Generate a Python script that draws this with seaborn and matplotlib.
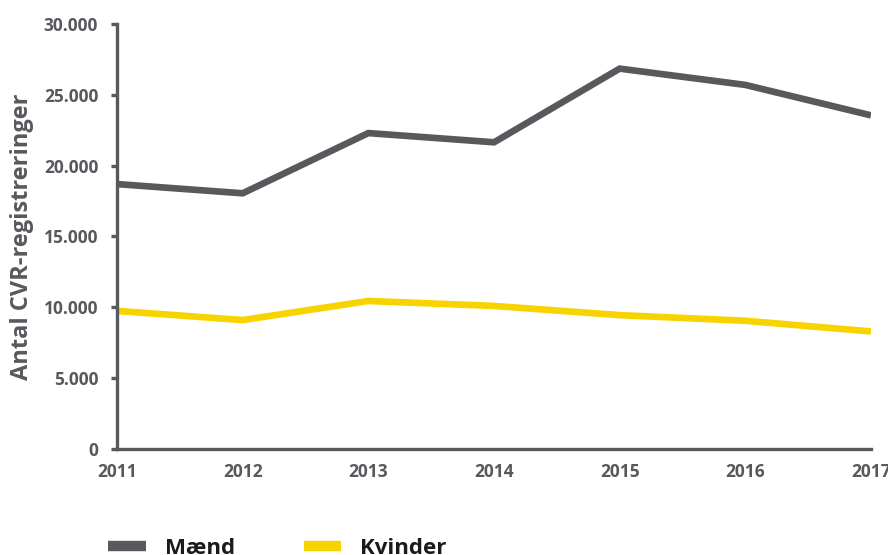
import matplotlib.pyplot as plt
import pandas as pd
import seaborn as sns
from matplotlib.lines import Line2D
from matplotlib.ticker import FuncFormatter

# Data
years = [2011, 2012, 2013, 2014, 2015, 2016, 2017]
maend = [18700, 18050, 22300, 21650, 26850, 25700, 23550]
kvinder = [9750, 9100, 10450, 10100, 9450, 9050, 8300]
series_names = ['Mænd', 'Kvinder']
y_ticks = [0, 5000, 10000, 15000, 20000, 25000, 30000]

GRAY = '#57595d'
YELLOW = '#f7d300'

df = pd.DataFrame({
    'year': years * 2,
    'value': maend + kvinder,
    'series': [series_names[0]] * len(years) + [series_names[1]] * len(years),
})

sns.set_style('white')
plt.rcParams['font.family'] = ['Open Sans', 'DejaVu Sans']
plt.rcParams['font.weight'] = 'bold'

fig, ax = plt.subplots(figsize=(8.88, 5.55), dpi=100)
fig.subplots_adjust(left=117 / 888, right=871 / 888, bottom=1 - 449 / 555, top=1 - 24 / 555)

sns.lineplot(data=df, x='year', y='value', hue='series',
             palette=[GRAY, YELLOW], linewidth=4.8, legend=False, ax=ax,
             solid_joinstyle='miter', solid_capstyle='butt')

ax.set_xlim(2011, 2017)
ax.set_ylim(0, 30000)
ax.set_xticks(years)
ax.set_yticks(y_ticks)
ax.yaxis.set_major_formatter(FuncFormatter(lambda v, p: f'{int(v):,}'.replace(',', '.')))

for s in ['top', 'right']:
    ax.spines[s].set_visible(False)
for s in ['left', 'bottom']:
    ax.spines[s].set_color(GRAY)
    ax.spines[s].set_linewidth(2.4)

ax.tick_params(axis='y', length=4.5, width=2.4, color=GRAY, pad=9,
               labelsize=12.5, labelcolor=GRAY, left=True)
ax.tick_params(axis='x', length=0, pad=10, labelsize=12.5, labelcolor=GRAY)
for lbl in ax.get_xticklabels() + ax.get_yticklabels():
    lbl.set_fontweight('bold')

ax.set_xlabel('')
ax.set_ylabel('Antal CVR-registreringer', fontsize=17, fontweight='bold',
              color=GRAY, labelpad=7)

handles = [Line2D([], [], color=GRAY, linewidth=7.5, solid_capstyle='butt'),
           Line2D([], [], color=YELLOW, linewidth=7.5, solid_capstyle='butt')]
fig.legend(handles, series_names, loc='upper left', bbox_to_anchor=(88 / 888, 1 - 518 / 555),
           ncol=2, frameon=False, handlelength=1.7, handletextpad=0.85,
           columnspacing=3.1, prop={'size': 16, 'weight': 'bold'},
           labelcolor='#1b1b1b')

fig.savefig('out.png', dpi=100)
